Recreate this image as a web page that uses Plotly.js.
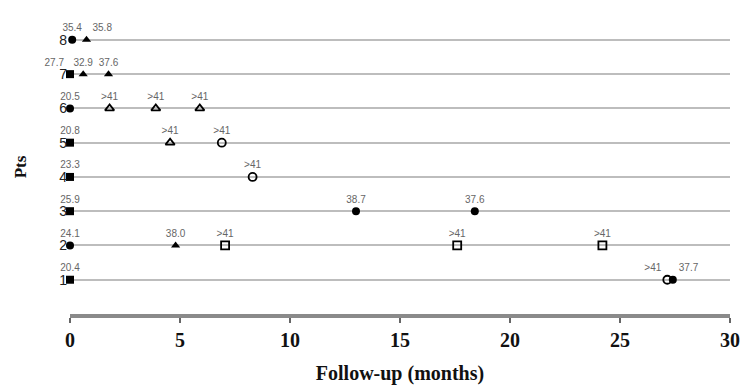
<!DOCTYPE html>
<html><head><meta charset="utf-8">
<script src="https://cdn.plot.ly/plotly-3.0.1.min.js"></script>
<style>html,body{margin:0;padding:0;background:#fff}#chart{width:742px;height:388px}</style>
</head><body><div id="chart"></div>
<script>
// Filled markers = measured value; open markers = ">41"
const filledCirclePts = [8, 6, 3, 3, 2, 1];
const filledCircleMonths = [0.1, 0, 13.0, 18.4, 0, 27.4];
const filledCircleLabels = ['35.4', '20.5', '38.7', '37.6', '24.1', '37.7'];

const filledSquarePts = [7, 5, 4, 3, 1];
const filledSquareMonths = [0, 0, 0, 0, 0];
const filledSquareLabels = ['27.7', '20.8', '23.3', '25.9', '20.4'];

const filledTrianglePts = [8, 7, 7, 2];
const filledTriangleMonths = [0.75, 0.6, 1.75, 4.8];
const filledTriangleLabels = ['35.8', '32.9', '37.6', '38.0'];

const openTrianglePts = [6, 6, 6, 5];
const openTriangleMonths = [1.8, 3.9, 5.9, 4.55];
const openTriangleLabels = ['>41', '>41', '>41', '>41'];

const openCirclePts = [5, 4, 1];
const openCircleMonths = [6.9, 8.3, 27.15];
const openCircleLabels = ['>41', '>41', '>41'];

const openSquarePts = [2, 2, 2];
const openSquareMonths = [7.05, 17.6, 24.2];
const openSquareLabels = ['>41', '>41', '>41'];

const xTicks = [0, 5, 10, 15, 20, 25, 30];
const yTicks = [1, 2, 3, 4, 5, 6, 7, 8];

// label placement (style only)
const posFilledCircle = ['top center', 'top center', 'top center', 'top center', 'top center', 'top right'];
const posFilledSquare = ['top left', 'top center', 'top center', 'top center', 'top center'];
const posFilledTriangle = ['top right', 'top center', 'top center', 'top center'];
const posOpenCircle = ['top center', 'top center', 'top left'];

function tr(x, y, labels, symbol, pos) {
  return {
    type: 'scatter', mode: 'markers+text', x: x, y: y, text: labels,
    textposition: pos || 'top center', cliponaxis: false,
    textfont: {family: 'Arial, Liberation Sans, sans-serif', size: 10, color: '#666'},
    marker: {symbol: symbol, size: 8, color: '#000', line: {color: '#000', width: symbol.indexOf('open') >= 0 ? 1.8 : 0}},
    hoverinfo: 'skip', showlegend: false
  };
}

const data = [
  tr(filledCircleMonths, filledCirclePts, filledCircleLabels, 'circle', posFilledCircle),
  tr(filledSquareMonths, filledSquarePts, filledSquareLabels, 'square', posFilledSquare),
  tr(filledTriangleMonths, filledTrianglePts, filledTriangleLabels, 'triangle-up', posFilledTriangle),
  tr(openTriangleMonths, openTrianglePts, openTriangleLabels, 'triangle-up-open'),
  tr(openCircleMonths, openCirclePts, openCircleLabels, 'circle-open', posOpenCircle),
  tr(openSquareMonths, openSquarePts, openSquareLabels, 'square-open')
];

const layout = {
  width: 742, height: 388,
  margin: {l: 70, r: 12, t: 20, b: 74},
  paper_bgcolor: '#fff', plot_bgcolor: '#fff',
  xaxis: {
    range: [0, 30], tickvals: xTicks, ticktext: xTicks.map(String),
    showgrid: false, zeroline: false,
    showline: true, linecolor: '#8a8a8a', linewidth: 4,
    ticks: 'outside', ticklen: 5, tickwidth: 1.5, tickcolor: '#666',
    ticklabelstandoff: 0,
    tickfont: {family: 'Liberation Serif, Times New Roman, serif', size: 20, color: '#111', weight: 'bold'},
    title: {text: '<b>Follow-up (months)</b>', standoff: 17,
      font: {family: 'Liberation Serif, Times New Roman, serif', size: 20, color: '#111'}}
  },
  yaxis: {
    range: [0, 8.58], tickvals: yTicks, ticktext: yTicks.map(String),
    showgrid: true, gridcolor: '#bdbdbd', gridwidth: 2,
    zeroline: false, showline: false, ticks: '',
    ticklabelstandoff: 2,
    tickfont: {family: 'Arial, Liberation Sans, sans-serif', size: 14, color: '#222'},
    title: {text: '<b>Pts</b>', standoff: 28,
      font: {family: 'Liberation Serif, Times New Roman, serif', size: 17, color: '#111'}}
  }
};

Plotly.newPlot('chart', data, layout, {displayModeBar: false, staticPlot: true});
</script>
</body></html>
